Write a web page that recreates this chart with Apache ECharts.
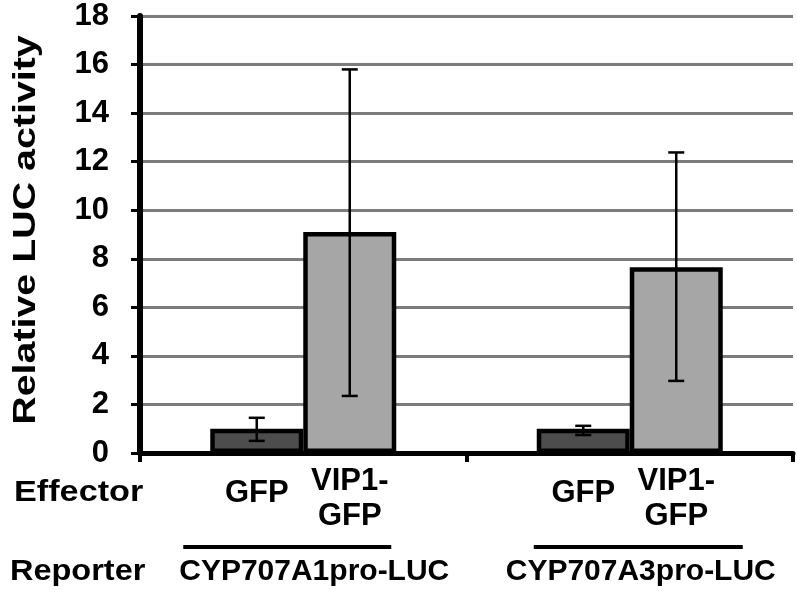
<!DOCTYPE html>
<html>
<head>
<meta charset="utf-8">
<script src="https://cdn.jsdelivr.net/npm/echarts@6/dist/echarts.min.js"></script>
<style>
  html, body { margin: 0; padding: 0; background: #fff; }
  #main { width: 797px; height: 596px; }
</style>
</head>
<body>
<div id="main"></div>
<script>
// reporter groups (x categories) and effector labels (one per bar)
const reporters = ['CYP707A1pro-LUC', 'CYP707A3pro-LUC'];
const effectors = ['GFP', 'VIP1-\nGFP'];

// relative LUC activity
const gfpMean = [1.0, 1.0];
const gfpLow = [0.5, 0.74];
const gfpHigh = [1.45, 1.12];
const vipMean = [9.1, 7.65];
const vipLow = [2.35, 2.97];
const vipHigh = [15.8, 12.38];

const FONT = "'Liberation Sans', Arial, sans-serif";
const BAR_W = 93;

const chart = echarts.init(document.getElementById('main'));

function barData(means, effIdx) {
  return means.map(function (v) {
    return {
      value: v,
      label: { distance: effIdx === 0 ? 23 : 11 }
    };
  });
}

function errData(lows, highs, side) {
  return lows.map(function (lo, i) { return [i, lo, highs[i], side]; });
}

function renderErr(params, api) {
  const side = api.value(3);
  const top = api.coord([api.value(0), api.value(2)]);
  const bot = api.coord([api.value(0), api.value(1)]);
  const x = top[0] + side * BAR_W / 2;
  const cap = 8;
  const st = { stroke: '#000', lineWidth: 2.5 };
  return {
    type: 'group',
    children: [
      { type: 'line', shape: { x1: x, y1: top[1], x2: x, y2: bot[1] }, style: st },
      { type: 'line', shape: { x1: x - cap, y1: top[1], x2: x + cap, y2: top[1] }, style: st },
      { type: 'line', shape: { x1: x - cap, y1: bot[1], x2: x + cap, y2: bot[1] }, style: st }
    ]
  };
}

const barLabel = {
  show: true,
  position: 'bottom',
  color: '#000',
  fontFamily: FONT,
  fontWeight: 'bold',
  fontSize: 31,
  lineHeight: 35,
  align: 'center'
};

let option = {
  animation: false,
  grid: { left: 140, right: 4, top: 16, bottom: 143 },
  xAxis: {
    type: 'category',
    data: reporters,
    axisLine: { lineStyle: { color: '#000', width: 5 } },
    axisTick: { show: true, length: 9, lineStyle: { color: '#000', width: 4 } },
    axisLabel: {
      interval: 0,
      margin: 104,
      padding: [0, 0, 0, 22],
      color: '#000',
      fontFamily: FONT,
      fontWeight: 'bold',
      fontSize: 30
    },
    splitLine: { show: false }
  },
  yAxis: {
    type: 'value',
    min: 0,
    max: 18,
    interval: 2,
    axisLine: { show: true, lineStyle: { color: '#000', width: 6 } },
    axisTick: { show: true, length: 9, lineStyle: { color: '#000', width: 3 } },
    axisLabel: {
      margin: 31,
      color: '#000',
      fontFamily: FONT,
      fontWeight: 'bold',
      fontSize: 31
    },
    splitLine: { show: true, lineStyle: { color: '#7c7c7c', width: 3 } }
  },
  series: [
    {
      name: 'GFP',
      type: 'bar',
      data: barData(gfpMean, 0),
      barWidth: BAR_W,
      barGap: '0%',
      itemStyle: { color: '#4d4d4d', borderColor: '#000', borderWidth: 4.5 },
      label: Object.assign({}, barLabel, { formatter: function () { return effectors[0]; } }),
      silent: true
    },
    {
      name: 'VIP1-GFP',
      type: 'bar',
      data: barData(vipMean, 1),
      barWidth: BAR_W,
      barGap: '0%',
      itemStyle: { color: '#a6a6a6', borderColor: '#000', borderWidth: 4.5 },
      label: Object.assign({}, barLabel, { formatter: function () { return effectors[1]; } }),
      silent: true
    },
    {
      type: 'custom',
      data: errData(gfpLow, gfpHigh, -1),
      renderItem: renderErr,
      z: 5,
      silent: true
    },
    {
      type: 'custom',
      data: errData(vipLow, vipHigh, 1),
      renderItem: renderErr,
      z: 5,
      silent: true
    }
  ]
};

chart.setOption(option);

// row titles, axis title and the group underlines
const c0 = chart.convertToPixel({ xAxisIndex: 0 }, 0);
const c1 = chart.convertToPixel({ xAxisIndex: 0 }, 1);
const txt = function (text, x, y, sx) {
  return {
    type: 'text',
    x: x, y: y,
    scaleX: sx,
    style: {
      text: text,
      font: 'bold 29px ' + FONT,
      fill: '#000',
      textAlign: 'left',
      textVerticalAlign: 'middle'
    },
    silent: true
  };
};

chart.setOption({
  graphic: [
    {
      type: 'text',
      x: 26, y: 230,
      rotation: Math.PI / 2,
      scaleX: 1.27,
      style: {
        text: 'Relative LUC activity',
        font: 'bold 31px ' + FONT,
        fill: '#000',
        textAlign: 'center',
        textVerticalAlign: 'middle'
      },
      silent: true
    },
    txt('Effector', 14, 493, 1.18),
    txt('Reporter', 10, 572, 1.12),
    {
      type: 'line',
      shape: { x1: c0 - 120, y1: 547, x2: c0 + 88, y2: 547 },
      style: { stroke: '#000', lineWidth: 4 },
      silent: true
    },
    {
      type: 'line',
      shape: { x1: c1 - 96, y1: 547, x2: c1 + 113, y2: 547 },
      style: { stroke: '#000', lineWidth: 4 },
      silent: true
    }
  ]
});
</script>
</body>
</html>
